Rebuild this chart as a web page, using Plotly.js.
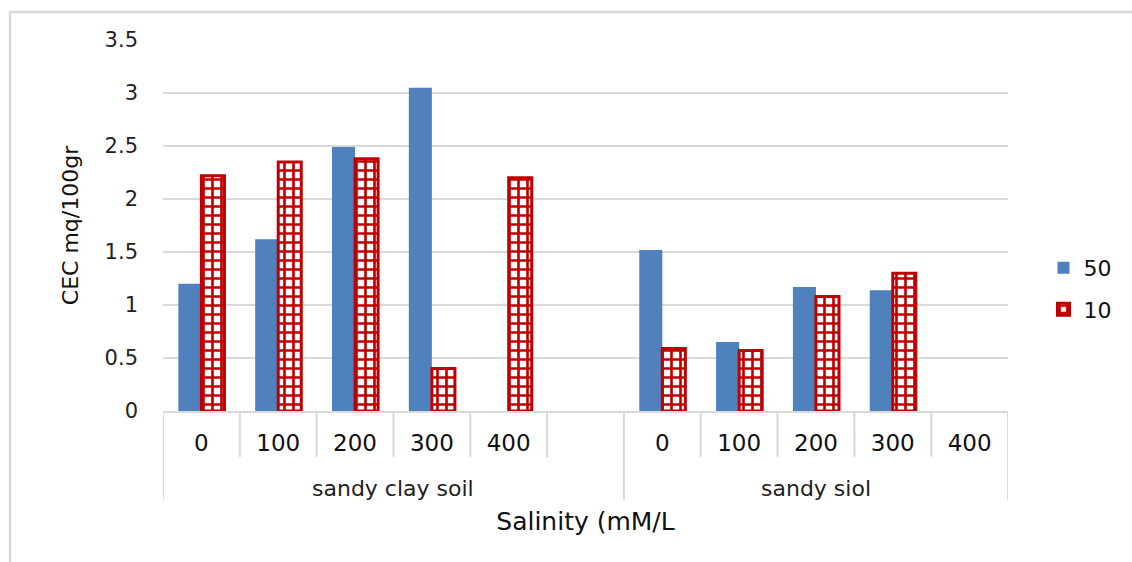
<!DOCTYPE html>
<html>
<head>
<meta charset="utf-8">
<script src="https://cdn.plot.ly/plotly-3.0.1.min.js"></script>
<style>html,body{margin:0;padding:0;background:#fff;}#chart{width:1132px;height:562px;}</style>
</head>
<body>
<div id="chart"></div>
<script>
const soils = ["sandy clay soil","sandy clay soil","sandy clay soil","sandy clay soil","sandy clay soil","sandy clay soil",
               "sandy siol","sandy siol","sandy siol","sandy siol","sandy siol"];
const salinity = ["0","100","200","300","400","","0","100","200","300","400"];
const series50 = [1.2, 1.62, 2.49, 3.05, null, null, 1.52, 0.65, 1.17, 1.14, null];
const series10 = [2.22, 2.35, 2.38, 0.4, 2.2, null, 0.59, 0.57, 1.08, 1.3, null];
const seriesNames = ["50","10"];

const font = "DejaVu Sans, sans-serif";
const keys = soils.map((s,i) => s + "|" + i);
const grey = "#d9d9d9";

// structural lines and group labels derived from the category arrays
const shapes = [];
const annotations = [];
const groupStarts = [];
for (let i = 0; i < soils.length; i++) {
  if (i === 0 || soils[i] !== soils[i-1]) groupStarts.push(i);
}
groupStarts.push(soils.length);
for (let g = 0; g < groupStarts.length; g++) {
  shapes.push({type:"line", xref:"x", yref:"paper", x0:groupStarts[g]-0.5, x1:groupStarts[g]-0.5,
    y0:0, y1:-0.24, line:{color:grey, width:2}});
  if (g < groupStarts.length-1) {
    const a = groupStarts[g], b = groupStarts[g+1];
    for (let i = a+1; i < b; i++) {
      shapes.push({type:"line", xref:"x", yref:"paper", x0:i-0.5, x1:i-0.5, y0:0, y1:-0.124,
        line:{color:grey, width:2}});
    }
    annotations.push({xref:"x", yref:"paper", x:(a+b-1)/2, y:-0.208, text:soils[a], showarrow:false,
      font:{size:22, color:"#222", family:font}, xanchor:"center", yanchor:"middle"});
  }
}
shapes.push({type:"rect", xref:"paper", yref:"paper", x0:-0.181, x1:1.2, y0:-0.45, y1:1.0755,
  line:{color:grey, width:2.5}, fillcolor:"rgba(0,0,0,0)", layer:"below"});

const traces = [
  {type:"bar", name:seriesNames[0], x:keys, y:series50, legendgroup:"a",
   marker:{color:"#4f81bd", line:{width:0}}},
  {type:"bar", name:seriesNames[1], x:keys, y:series10, legendgroup:"b",
   marker:{color:"#c00000", line:{color:"#c00000", width:3},
     pattern:{shape:"+", fgcolor:"#c00000", bgcolor:"#ffffff", size:9, solidity:0.5, fillmode:"replace"}}}
];
const layout = {
  width:1132, height:562,
  margin:{l:163, r:124, t:40, b:151},
  paper_bgcolor:"#fff", plot_bgcolor:"#fff",
  barmode:"group", bargap:0.4, bargroupgap:0,
  font:{family:font, color:"#222", size:20},
  showlegend:true,
  legend:{x:1.042, y:0.329, xanchor:"left", yanchor:"middle", font:{size:22, color:"#111"},
    tracegroupgap:10, traceorder:"grouped", bgcolor:"rgba(0,0,0,0)"},
  xaxis:{type:"category", tickvals:keys, ticktext:salinity, showgrid:false, zeroline:false,
    showline:true, linecolor:grey, linewidth:2, ticks:"", ticklabelstandoff:10,
    tickfont:{size:23, color:"#111"}, range:[-0.5, soils.length-0.5],
    title:{text:"Salinity (mM/L", font:{size:25, color:"#111"}, standoff:58}},
  yaxis:{range:[0,3.5], dtick:0.5, showgrid:true, gridcolor:grey, gridwidth:1.5, zeroline:false,
    showline:false, ticks:"", ticklabelstandoff:24, tickfont:{size:21, color:"#222"},
    title:{text:"CEC mq/100gr", font:{size:22, color:"#111"}, standoff:19}},
  shapes:shapes,
  annotations:annotations
};
Plotly.newPlot("chart", traces, layout, {displayModeBar:false, staticPlot:true});
</script>
</body>
</html>
